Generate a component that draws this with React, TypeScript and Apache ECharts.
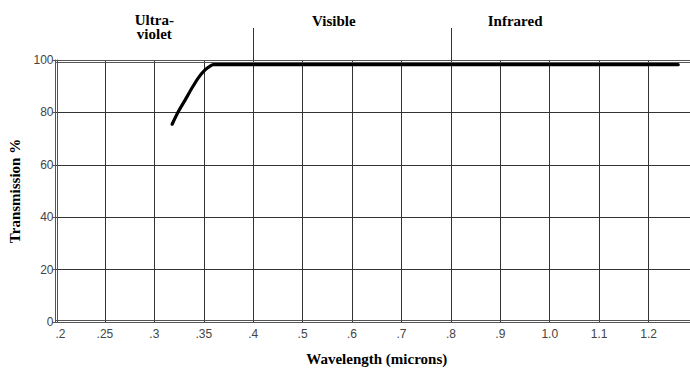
import React, { useEffect, useRef } from "react";
import * as echarts from "echarts";

// Tick values (microns) and their labels; the axis is evenly spaced per tick
const tickValues = [0.2, 0.25, 0.3, 0.35, 0.4, 0.5, 0.6, 0.7, 0.8, 0.9, 1.0, 1.1, 1.2];
const tickLabels = [".2", ".25", ".3", ".35", ".4", ".5", ".6", ".7", ".8", ".9", "1.0", "1.1", "1.2"];

// Transmission curve
const wavelengths = [0.318, 0.3243, 0.3311, 0.3379, 0.3445, 0.3513, 0.3564, 0.3597, 1.26];
const transmission = [75.5, 80.3, 84.7, 89.2, 93.2, 96.2, 97.7, 98.2, 98.2];

// Region headings (center wavelength) and dividers
const regionLabels = [
  { text: "Ultra-\nviolet", at: 0.3 },
  { text: "Visible", at: 0.563 },
  { text: "Infrared", at: 0.93 },
];
const regionDividers = [0.4, 0.8];

const yTicks = { min: 0, max: 100, interval: 20 };

// map a wavelength to its position on the piecewise-evenly spaced axis
function pos(w: number): number {
  const n = tickValues.length;
  for (let i = 0; i < n - 1; i++) {
    if (w <= tickValues[i + 1] || i === n - 2) {
      const a = tickValues[i];
      const b = tickValues[i + 1];
      return i + (w - a) / (b - a);
    }
  }
  return 0;
}

const serif = "Liberation Serif";
const sans = "Liberation Sans";

export default function App() {
  const ref = useRef<HTMLDivElement>(null);
  useEffect(() => {
    if (!ref.current) return;
    const chart = echarts.init(ref.current, undefined, { renderer: "svg" });
    const lineColor = "#555";
    const hiddenX = (position: string, offset: number) => ({
      type: "value",
      position,
      offset,
      min: 0,
      max: 13,
      interval: 1,
      axisLine: { show: true, lineStyle: { color: lineColor, width: 1 } },
      axisTick: { show: false },
      axisLabel: { show: false },
      splitLine: { show: false },
    });
    chart.setOption({
      animation: false,
      backgroundColor: "#fff",
      grid: {
        left: 55.5,
        top: 60,
        bottom: 369 - 322,
        right: -8,
        containLabel: false,
        outerBoundsMode: "none",
      },
      xAxis: [
        {
          type: "value",
          position: "bottom",
          min: 0,
          max: 13,
          interval: 1,
          axisLine: { show: true, lineStyle: { color: lineColor, width: 1 } },
          axisTick: { show: false },
          axisLabel: {
            color: "#444",
            fontSize: 12,
            fontFamily: sans,
            margin: 6,
            alignMinLabel: "left",
            formatter: (v: number) => tickLabels[Math.round(v)] ?? "",
          },
          splitLine: { show: true, lineStyle: { color: "#333", width: 1 } },
          name: "Wavelength (microns)",
          nameLocation: "middle",
          nameGap: 29,
          nameTextStyle: { fontFamily: serif, fontWeight: "bold", fontSize: 15, color: "#000" },
        },
        hiddenX("bottom", -2),
        hiddenX("top", 0),
        hiddenX("top", -2),
      ],
      yAxis: [
        {
          type: "value",
          position: "left",
          min: yTicks.min,
          max: yTicks.max,
          interval: yTicks.interval,
          axisLine: { show: true, lineStyle: { color: lineColor, width: 1 } },
          axisTick: { show: true, length: 3, lineStyle: { color: lineColor } },
          axisLabel: { color: "#444", fontSize: 12, fontFamily: sans, margin: 2 },
          splitLine: { show: true, lineStyle: { color: "#333", width: 1 } },
          name: "Transmission %",
          nameLocation: "middle",
          nameGap: 31,
          nameTextStyle: { fontFamily: serif, fontWeight: "bold", fontSize: 15, color: "#000" },
        },
        {
          type: "value",
          position: "left",
          offset: -2,
          min: 0,
          max: 100,
          axisLine: { show: true, lineStyle: { color: lineColor, width: 1 } },
          axisTick: { show: false },
          axisLabel: { show: false },
          splitLine: { show: false },
        },
      ],
      series: [
        {
          type: "line",
          data: wavelengths.map((w, i) => [pos(w), transmission[i]]),
          showSymbol: false,
          smooth: 0.2,
          lineStyle: { color: "#000", width: 3.2, cap: "round", join: "round" },
          z: 5,
        },
      ],
    });

    const px = (w: number) => chart.convertToPixel({ xAxisIndex: 0 }, pos(w)) as number;
    const graphics: any[] = [];
    regionLabels.forEach((r) => {
      graphics.push({
        type: "text",
        x: px(r.at),
        y: r.text.includes("\n") ? 12.5 : 14,
        style: {
          text: r.text,
          fontFamily: serif,
          fontWeight: "bold",
          fontSize: 15,
          lineHeight: 14.5,
          fill: "#000",
          align: "center",
          verticalAlign: "top",
        },
      });
    });
    regionDividers.forEach((w) => {
      const x = Math.round(px(w)) + 0.5;
      graphics.push({
        type: "line",
        shape: { x1: x, y1: 28, x2: x, y2: 60 },
        style: { stroke: "#333", lineWidth: 1 },
      });
    });
    chart.setOption({ graphic: graphics });

    return () => chart.dispose();
  }, []);
  return (
    <div
      ref={ref}
      style={{ position: "fixed", left: 0, top: 0, width: 690, height: 369, background: "#fff" }}
    />
  );
}
